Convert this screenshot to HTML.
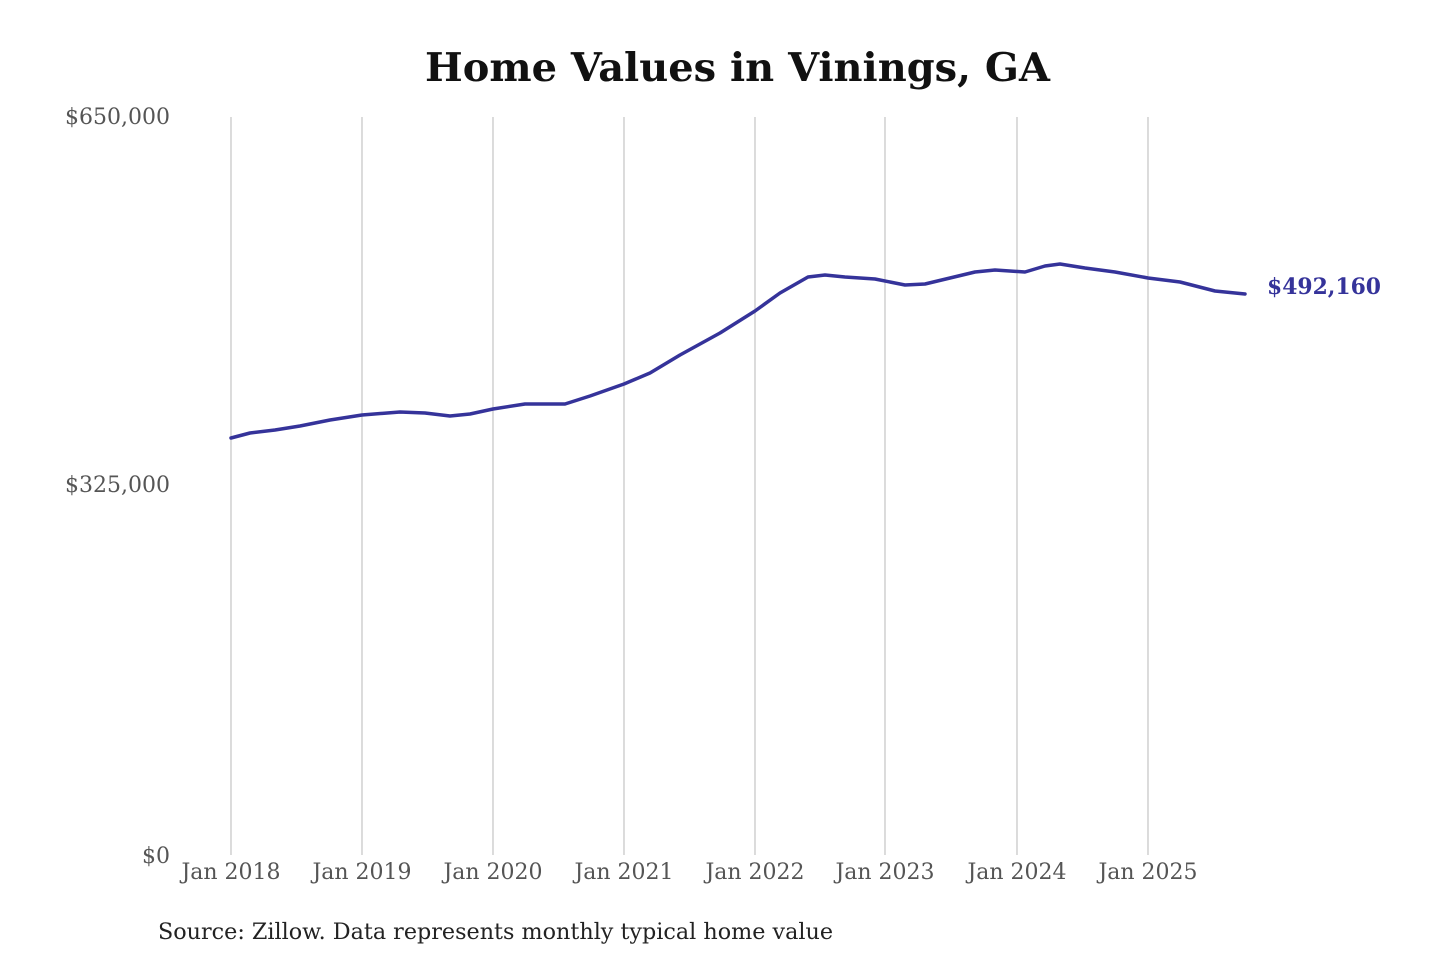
<!DOCTYPE html>
<html><head><meta charset="utf-8"><style>
html,body{margin:0;padding:0;background:#fff;}
svg{display:block;}
</style></head><body>
<svg width="1440" height="960" xmlns="http://www.w3.org/2000/svg" font-family="'DejaVu Serif','Liberation Serif',serif">
<text x="425" y="81" textLength="625" lengthAdjust="spacingAndGlyphs" font-size="39" font-weight="bold" fill="#111">Home Values in Vinings, GA</text>
<g stroke="#c8c8c8" stroke-width="1.3">
<line x1="231" y1="117" x2="231" y2="855"/><line x1="362" y1="117" x2="362" y2="855"/>
<line x1="493" y1="117" x2="493" y2="855"/><line x1="624" y1="117" x2="624" y2="855"/>
<line x1="755" y1="117" x2="755" y2="855"/><line x1="885" y1="117" x2="885" y2="855"/>
<line x1="1017" y1="117" x2="1017" y2="855"/><line x1="1148" y1="117" x2="1148" y2="855"/>
</g>
<g font-size="22" fill="#555" text-anchor="end">
<text x="170" y="124">$650,000</text>
<text x="170" y="492">$325,000</text>
<text x="170" y="863">$0</text>
</g>
<g font-size="22" fill="#555" text-anchor="middle">
<text x="231" y="879">Jan 2018</text><text x="362" y="879">Jan 2019</text>
<text x="493" y="879">Jan 2020</text><text x="624" y="879">Jan 2021</text>
<text x="755" y="879">Jan 2022</text><text x="885" y="879">Jan 2023</text>
<text x="1017" y="879">Jan 2024</text><text x="1148" y="879">Jan 2025</text>
</g>
<polyline fill="none" stroke="#35339a" stroke-width="3.5" stroke-linejoin="round" stroke-linecap="round"
points="231,438 250,433 275,430 300,426 330,420 362,415 400,412 425,413 450,416 470,414 493,409 525,404 545,404 565,404 590,396 624,384 650,373 680,355 720,333 755,311 780,293 808,277 825,275 845,277 875,279 905,285 925,284 950,278 975,272 995,270 1025,272 1045,266 1060,264 1085,268 1115,272 1148,278 1180,282 1215,291 1245,294"/>
<text x="1267" y="294" textLength="114" lengthAdjust="spacingAndGlyphs" font-size="22" font-weight="bold" fill="#35339a">$492,160</text>
<text x="158" y="939" textLength="675" lengthAdjust="spacingAndGlyphs" font-size="22" fill="#222">Source: Zillow. Data represents monthly typical home value</text>
</svg>
</body></html>
